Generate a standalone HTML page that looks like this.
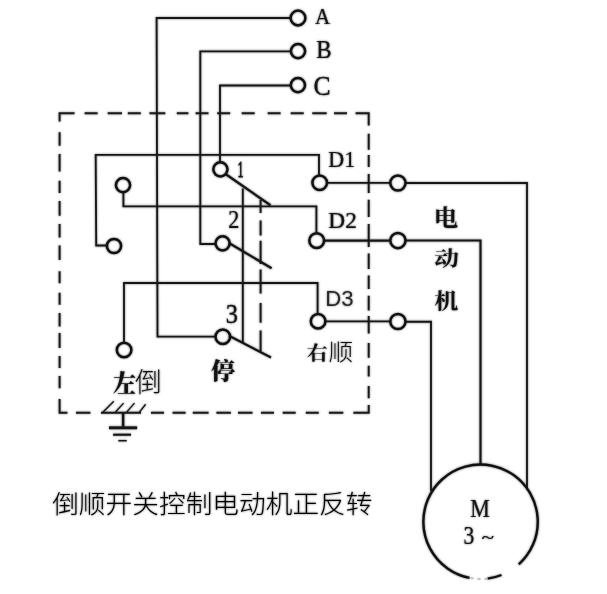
<!DOCTYPE html>
<html lang="zh">
<head>
<meta charset="utf-8">
<title>倒顺开关控制电动机正反转</title>
<style>
html,body{margin:0;padding:0;background:#fff;}
body{width:607px;height:594px;overflow:hidden;}
svg{display:block;}
.w{fill:none;stroke:#161616;stroke-width:1.85;stroke-linecap:butt;stroke-linejoin:miter;}
.k{fill:none;stroke:#161616;stroke-width:2.3;stroke-linecap:butt;}
.t{fill:none;stroke:#111;stroke-width:2.5;}
.d{fill:none;stroke:#1a1a1a;stroke-width:1.95;}
.lat{font-family:"Liberation Serif",serif;font-size:22px;fill:#151515;stroke:#151515;stroke-width:.2;}
.san{font-family:"Liberation Sans","Noto Sans CJK SC",sans-serif;font-size:20px;fill:#2a2a2a;}
.cjb{font-family:"Liberation Serif","Noto Serif CJK SC",serif;font-weight:700;font-size:22px;fill:#111;}
.cjk{font-family:"Liberation Serif","Noto Serif CJK SC",serif;font-weight:900;font-size:22px;fill:#111;}
.cap{font-family:"Liberation Sans","Noto Sans CJK SC",sans-serif;font-weight:300;font-size:26px;fill:#000;}
.cjs{font-family:"Liberation Sans","Noto Sans CJK SC",sans-serif;font-weight:300;font-size:25px;fill:#111;}
</style>
</head>
<body>
<svg width="607" height="594" viewBox="0 0 607 594">
<defs>
<filter id="soft" x="0" y="0" width="607" height="594" filterUnits="userSpaceOnUse"><feGaussianBlur stdDeviation="0.8"/></filter>
</defs>
<rect width="607" height="594" fill="#fff"/>
<use href="#diagram" filter="url(#soft)" opacity=".6"/>
<g opacity=".996">
<g id="diagram">

<!-- dashed enclosure and mechanical linkage -->
<path class="d" d="M58.6 113.2H74.5M84.6 113.2H97.6M107.7 113.2H122M127.8 113.2H140.8M149.5 113.2H165.3M176.8 113.2H188.4M195.6 113.2H208.5M217.2 113.2H230.2M241.7 113.2H254.7M267.7 113.2H280.6M290.7 113.2H303.7M312.3 113.2H326.7M334 113.2H347M355.6 113.2H369.5M58.6 412.7H67.4M76 412.7H90.4M101 412.7H141M151 412.7H164M172.6 412.7H185.6M192.8 412.7H208.6M216.4 412.7H230.9M238 412.7H252.5M261 412.7H274M282.7 412.7H295.7M305.8 412.7H318.8M328.9 412.7H343.3M353.4 412.7H369.5M59.6 112.2V121.5M59.6 132.3V145.8M59.6 153.9V171.4M59.6 180.8V193M59.6 201V215.8M59.6 223.9V237.4M59.6 245.5V260M59.6 271.2V283.3M59.6 292.7V304.8M59.6 312.9V326.4M59.6 333V348M59.6 356V368M59.6 376V388.3M59.6 399V413.7M368.7 112.2V125.6M368.7 133.7V149.8M368.7 155V167M368.7 174V193M368.7 199.7V217M368.7 224V247M368.7 253.5V269M368.7 275.6V289M368.7 295.8V310.6M368.7 316V333.5M368.7 343V357.7M368.7 365.8V376.5M368.7 386V398.2M368.7 405V413.7M260.6 200V213M260.6 220.5V235.5M260.6 240.7V264M260.6 269.5V293.5M260.6 303V322.7M260.6 330.4V351.5"/>

<!-- supply lines A B C -->
<path class="w" d="M291 18 H156.6 L157.5 336.6 H216"/>
<path class="w" d="M291 51.3 H200.3 V244 H216"/>
<path class="w" d="M291 85.5 H220 V163"/>

<!-- cross connections -->
<path class="w" d="M108 245.5 H96.2 L95.7 154.9 H319 V176"/>
<path class="w" d="M123.4 192 V206.4 H316.4 V234"/>
<path class="w" d="M124 343 V283 H317.6 V314"/>
<!-- solid linkage -->
<path class="w" d="M242.8 188.5 V342.5"/>

<!-- switch blades -->
<path class="k" d="M225.5 174 L270.5 205.3"/>
<path class="k" d="M229 243 L271.6 268.3"/>
<path class="k" d="M229 335.8 L271 357.5"/>

<!-- output lines -->
<path class="w" d="M326 182.8 H390"/>
<path class="k" d="M323 240.6 H391"/>
<path class="w" d="M325 321.4 H391"/>
<path class="w" d="M405 183 H527 V490"/>
<path class="w" style="stroke-width:2.1px" d="M405 240.5 H480.5 V465"/>
<path class="w" d="M405 321.7 H431 V491"/>

<!-- terminals -->
<circle class="t" cx="298" cy="18" r="7.4"/>
<circle class="t" cx="298" cy="51.2" r="7.1"/>
<circle class="t" cx="297.9" cy="85.2" r="7.1"/>
<circle class="t" cx="220.4" cy="169.3" r="7.1"/>
<circle class="t" cx="222.6" cy="243.3" r="7.1"/>
<circle class="t" cx="222.8" cy="336.8" r="7.3"/>
<circle class="t" cx="123" cy="185.2" r="7.1"/>
<circle class="t" cx="114" cy="246" r="7.1"/>
<circle class="t" cx="124.1" cy="350" r="7.3"/>
<circle class="t" cx="319.7" cy="182.8" r="7.3"/>
<circle class="t" cx="316.7" cy="240.6" r="7.4"/>
<circle class="t" cx="318.1" cy="321.3" r="7.3"/>
<circle class="t" cx="397.9" cy="183" r="7.6"/>
<circle class="t" cx="397.9" cy="240.6" r="7.6"/>
<circle class="t" cx="397.9" cy="321.5" r="7.6"/>

<!-- motor -->

<path d="M518.8 564.3 A57.2 57.2 0 1 0 469.6 577.9" fill="none" stroke="#111" stroke-width="2.4"/>
<path d="M501.5 575.0 A57.2 57.2 0 0 1 487.5 578.6" fill="none" stroke="#111" stroke-width="2.4"/>
<path d="M487.5 578.6 A57.2 57.2 0 0 1 469.6 577.9" fill="none" stroke="#bbb" stroke-width="1.6" stroke-dasharray="3 4"/>

<!-- ground -->
<path class="w" style="stroke-width:2.5px" d="M123.1 412 V427"/>
<path class="w" style="stroke-width:2.9px" d="M109 427.8 H137.1"/>
<path class="w" style="stroke-width:2.1px" d="M113.1 434.7 H131"/>
<path class="w" style="stroke-width:1.5px" d="M118.3 440.7 H126.7"/>
<path class="w" style="stroke-width:1.4px" d="M102.6 412.6 L113.8 401.3 M115.5 412 L123.6 403.1 M126.4 412.4 L134.5 403.1 M139.3 412.4 L145.6 404.3"/>

<!-- labels -->
<text class="lat" transform="translate(314.9 23.83) scale(0.96 1.002)">A</text>
<text class="lat" transform="translate(316.32 58.38) scale(1.047 1.116)">B</text>
<text class="lat" transform="translate(313.5 95.0) scale(1.163 1.286)">C</text>
<text class="lat" transform="translate(237.8 176.9) scale(0.5 1.04)" style="stroke-width:1px">1</text>
<text class="lat" transform="translate(228.15 228.38) scale(1.007 1.116)">2</text>
<text class="lat" transform="translate(225.69 322.92) scale(1.111 1.253)">3</text>
<text class="lat" transform="translate(328.37 167.39) scale(1.002 1.082)">D1</text>
<text class="lat" transform="translate(328.35 228.05) scale(1.061 1.019)">D2</text>
<text class="san" transform="translate(325.21 306.24) scale(1.11 1.073)">D3</text>
<text class="lat" transform="translate(470.3 516.8) scale(1.0 1.10)">M</text>
<text class="lat" transform="translate(463.5 543.8) scale(.98 1.1)">3</text>
<text class="cjb" transform="translate(433.69 226.06) scale(1.109 1.049)">电</text>
<text class="cjb" transform="translate(434.26 266.44) scale(1.126 0.91)">动</text>
<text class="cjb" transform="translate(434.32 307.9) scale(1.096 0.95)">机</text>
<text transform="translate(113.08 392.2) scale(1.053 1.096)"><tspan class="cjk">左</tspan><tspan class="cjs" x="20.73" style="font-size:25.4px">倒</tspan></text>
<text class="cjk" transform="translate(211.0 378.93) scale(1.093 1.024)">停</text>
<text transform="translate(306.8 360.3) scale(1 .92)"><tspan class="cjb" style="font-size:21px">右</tspan><tspan class="cjs" x="21.7" style="font-size:24.6px">顺</tspan></text>
<text class="cap" transform="translate(52.18 513.11) scale(1.027 0.962)">倒顺开关控制电动机正反转</text>
<text class="lat" transform="translate(481.6 543.2) scale(1.28 .9)" style="font-size:18px;stroke-width:.3px">~</text>
</g>
</g>
</svg>
</body>
</html>
